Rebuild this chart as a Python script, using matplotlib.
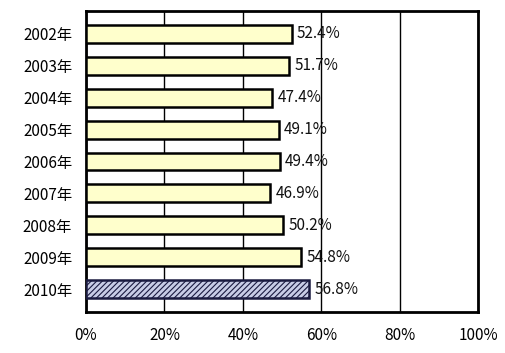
import matplotlib.pyplot as plt

plt.rcParams['font.family'] = ['Noto Sans CJK JP', 'DejaVu Sans']
plt.rcParams['hatch.linewidth'] = 0.8

# Data
years = ['2002年', '2003年', '2004年', '2005年', '2006年',
         '2007年', '2008年', '2009年', '2010年']
values = [52.4, 51.7, 47.4, 49.1, 49.4, 46.9, 50.2, 54.8, 56.8]
xticks = [0, 20, 40, 60, 80, 100]

fig = plt.figure(figsize=(5.06, 3.53), dpi=100)
ax = fig.add_axes([0.170, 0.116, 0.775, 0.853])

pos = list(range(len(years)))
bars = ax.barh(pos, values, height=0.56, color='#ffffcc',
               edgecolor='black', linewidth=1.8, zorder=3)
# last year is highlighted with hatching
bars[-1].set_facecolor('#c8cce6')
bars[-1].set_hatch('//////')
bars[-1].set_edgecolor('#1a1a40')
bars[-1].set_linewidth(1.8)

for p, v in zip(pos, values):
    ax.text(v + 1.4, p, f'{v}%', va='center', ha='left', fontsize=11,
            color='#111111', zorder=4)

ax.set_xlim(0, 100)
ax.set_ylim(len(years) - 0.28, -0.72)
ax.set_yticks(pos)
ax.set_yticklabels(years, fontsize=11)
ax.set_xticks(xticks)
ax.set_xticklabels([f'{t}%' for t in xticks], fontsize=11)
ax.tick_params(length=0, pad=10)
ax.tick_params(axis='x', pad=11)
ax.xaxis.grid(True, color='black', linewidth=1.0, zorder=1)

for s in ax.spines.values():
    s.set_linewidth(2)
    s.set_color('black')

fig.savefig('out.png', dpi=100)
